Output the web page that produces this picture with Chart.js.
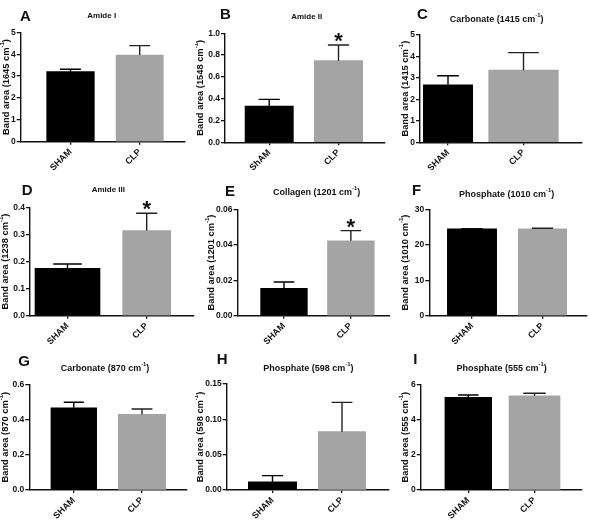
<!DOCTYPE html>
<html>
<head>
<meta charset="utf-8">
<script src="https://cdn.jsdelivr.net/npm/chart.js@4.4.1/dist/chart.umd.min.js"></script>
<style>
  body { margin: 0; background: #fff; }
  #wrap { position: relative; width: 590px; height: 528px; }
  canvas { position: absolute; }
</style>
</head>
<body>
<div id="wrap"></div>
<script>
const FONT = '"Liberation Sans", Arial, sans-serif';
Chart.defaults.font.family = FONT;

// data
const panelLetters = ["A", "B", "C", "D", "E", "F", "G", "H", "I"];
const panelTitles = ["Amide I", "Amide II", "Carbonate (1415 cm-1)", "Amide III", "Collagen (1201 cm-1)",
  "Phosphate (1010 cm-1)", "Carbonate (870 cm-1)", "Phosphate (598 cm-1)", "Phosphate (555 cm-1)"];
const wavenumbers = ["1645", "1548", "1415", "1238", "1201", "1010", "870", "598", "555"];
const firstGroup = ["SHAM", "ShAM", "SHAM", "SHAM", "SHAM", "SHAM", "SHAM", "SHAM", "SHAM"];
const secondGroup = ["CLP", "CLP", "CLP", "CLP", "CLP", "CLP", "CLP", "CLP", "CLP"];
const shamMean  = [3.2, 0.333, 2.68, 0.175, 0.0155, 24.5, 0.467, 0.0117, 5.26];
const shamUpper = [3.31, 0.394, 3.10, 0.191, 0.019, 24.5, 0.498, 0.0203, 5.39];
const clpMean   = [3.96, 0.749, 3.36, 0.314, 0.0422, 24.5, 0.430, 0.0825, 5.35];
const clpUpper  = [4.39, 0.893, 4.18, 0.378, 0.048, 24.65, 0.460, 0.124, 5.49];
const yMax   = [5, 1.0, 5, 0.4, 0.06, 30, 0.6, 0.15, 6];
const yStep  = [1, 0.2, 1, 0.1, 0.02, 10, 0.2, 0.05, 2];
const yDecimals = [0, 1, 0, 1, 2, 0, 1, 2, 0];
const significant = [false, true, false, true, true, false, false, false, false];

// layout (page pixels)
const boxes = [
  { left: 0,   top: 0,   w: 195, h: 170, axisX: 20.7,  topY: 32.3,  zeroY: 141.7, rightX: 185,   c0: 70.5,  c1: 139.7, bw: [47.6, 47.2], title: [101.7, 15.7, 8], letter: [20, 17],      yTitleX: 6 },
  { left: 195, top: 0,   w: 195, h: 170, axisX: 225,   topY: 33.3,  zeroY: 142.3, rightX: 385,   c0: 269.2, c1: 338.5, bw: [48.3, 48.3], title: [306.7, 16.7, 8], letter: [220, 15],     yTitleX: 200 },
  { left: 390, top: 0,   w: 200, h: 170, axisX: 420,   topY: 35,    zeroY: 142.3, rightX: 581.7, c0: 448,   c1: 523.5, bw: [49.4, 69.6], title: [496.7, 19.3, 9], letter: [417, 15],     yTitleX: 405 },
  { left: 0,   top: 170, w: 195, h: 175, axisX: 30,    topY: 207.3, zeroY: 315.7, rightX: 193.3, c0: 67.5,  c1: 146.7, bw: [65, 48],     title: [108.3, 189.3, 8], letter: [21.7, 190.7], yTitleX: 5 },
  { left: 195, top: 170, w: 195, h: 175, axisX: 237.5, topY: 209.3, zeroY: 315.7, rightX: 393.3, c0: 285,   c1: 353.3, bw: [46.7, 46.7], title: [316.7, 192.3, 9], letter: [225, 191.7], yTitleX: 211 },
  { left: 390, top: 170, w: 200, h: 175, axisX: 429.3, topY: 209.3, zeroY: 315.7, rightX: 586.7, c0: 472,   c1: 542.5, bw: [49.3, 48.3], title: [506.7, 194.3, 9], letter: [412, 190.7], yTitleX: 405 },
  { left: 0,   top: 345, w: 195, h: 183, axisX: 29.3,  topY: 384.3, zeroY: 490,   rightX: 186.7, c0: 73.8,  c1: 142,   bw: [45.7, 47.3], title: [105, 368.3, 9],   letter: [18.3, 362.3], yTitleX: 5 },
  { left: 195, top: 345, w: 195, h: 183, axisX: 226.7, topY: 384,   zeroY: 490,   rightX: 388.3, c0: 272.5, c1: 342,   bw: [48.3, 47.3], title: [308.3, 368.3, 9], letter: [216.7, 360],  yTitleX: 200 },
  { left: 390, top: 345, w: 200, h: 183, axisX: 420.7, topY: 384.3, zeroY: 490,   rightX: 581.7, c0: 468.3, c1: 534.5, bw: [46.7, 51],   title: [501.7, 368.3, 9], letter: [413.3, 360],  yTitleX: 405 }
];

const INK = "#111";

// text with "cm-1" superscript, centred on x
function drawSupText(ctx, text, x, y, size) {
  const parts = text.split("-1");
  const a = parts[0], b = parts.length > 1 ? parts[1] : "";
  const sup = parts.length > 1 ? "-1" : "";
  const supSize = size * 0.65;
  ctx.font = `bold ${size}px ${FONT}`;
  const wa = ctx.measureText(a).width, wb = ctx.measureText(b).width;
  ctx.font = `bold ${supSize}px ${FONT}`;
  const ws = sup ? ctx.measureText(sup).width : 0;
  let sx = x - (wa + ws + wb) / 2;
  ctx.textAlign = "left";
  ctx.textBaseline = "middle";
  ctx.font = `bold ${size}px ${FONT}`;
  ctx.fillText(a, sx, y);
  if (sup) {
    ctx.font = `bold ${supSize}px ${FONT}`;
    ctx.fillText(sup, sx + wa, y - size * 0.38);
    ctx.font = `bold ${size}px ${FONT}`;
    ctx.fillText(b, sx + wa + ws, y);
  }
}

function decor(i, b) {
  return {
    id: "decor" + i,
    afterDraw(chart) {
      const ctx = chart.ctx;
      const ys = chart.scales.y;
      ctx.save();
      ctx.fillStyle = INK;

      // error bars (upper only)
      const uppers = [shamUpper[i], clpUpper[i]];
      const colors = ["#000", "#222"];
      [0, 1].forEach(d => {
        const bar = chart.getDatasetMeta(d).data[0];
        const yTop = ys.getPixelForValue(uppers[d]);
        const cap = bar.width * 0.44;
        ctx.strokeStyle = colors[d];
        ctx.lineWidth = 1.4;
        ctx.beginPath();
        ctx.moveTo(bar.x, bar.y);
        ctx.lineTo(bar.x, yTop);
        ctx.moveTo(bar.x - cap / 2, yTop);
        ctx.lineTo(bar.x + cap / 2, yTop);
        ctx.stroke();
        if (d === 1 && significant[i]) {
          ctx.font = `bold 22px ${FONT}`;
          ctx.textAlign = "center";
          ctx.textBaseline = "middle";
          ctx.fillText("*", bar.x, yTop - 3);
        }
      });

      // panel letter
      ctx.font = `bold 15px ${FONT}`;
      ctx.textAlign = "left";
      ctx.textBaseline = "middle";
      ctx.fillText(panelLetters[i], b.letter[0] - b.left, b.letter[1] - b.top);

      // panel title
      drawSupText(ctx, panelTitles[i], b.title[0] - b.left, b.title[1] - b.top, b.title[2]);

      // y-axis title
      ctx.translate(b.yTitleX - b.left, (b.topY + b.zeroY) / 2 - b.top);
      ctx.rotate(-Math.PI / 2);
      drawSupText(ctx, "Band area (" + wavenumbers[i] + " cm-1)", 0, 0, 9.3);
      ctx.restore();
    }
  };
}

const wrap = document.getElementById("wrap");

boxes.forEach((b, i) => {
  const canvas = document.createElement("canvas");
  canvas.width = b.w;
  canvas.height = b.h;
  canvas.style.left = b.left + "px";
  canvas.style.top = b.top + "px";
  canvas.style.width = b.w + "px";
  canvas.style.height = b.h + "px";
  wrap.appendChild(canvas);

  const unit = b.c1 - b.c0;
  const xMin = -(b.c0 - b.axisX) / unit;
  const xMax = 1 + (b.rightX - b.c1) / unit;

  new Chart(canvas, {
    type: "bar",
    data: {
      datasets: [
        { data: [{ x: 0, y: shamMean[i] }], backgroundColor: "#000", barThickness: b.bw[0], grouped: false },
        { data: [{ x: 1, y: clpMean[i] }], backgroundColor: "#a4a4a4", barThickness: b.bw[1], grouped: false }
      ]
    },
    options: {
      responsive: false,
      animation: false,
      devicePixelRatio: 1,
      layout: { padding: { top: b.topY - b.top, right: b.left + b.w - b.rightX, left: 0, bottom: 0 } },
      plugins: { legend: { display: false }, tooltip: { enabled: false } },
      scales: {
        x: {
          type: "linear",
          bounds: "data",
          offset: false,
          min: xMin,
          max: xMax,
          afterBuildTicks: s => { s.ticks = [{ value: 0 }, { value: 1 }]; },
          afterFit: s => { s.height = b.top + b.h - b.zeroY; },
          grid: { drawOnChartArea: false, offset: false, tickLength: 3, color: INK, lineWidth: 1.3 },
          border: { color: INK, width: 1.4 },
          ticks: {
            autoSkip: false, minRotation: 45, maxRotation: 45, padding: 2, color: INK,
            font: { size: 9, weight: "bold" },
            callback: v => (v === 0 ? firstGroup[i] : secondGroup[i])
          }
        },
        y: {
          min: 0,
          max: yMax[i],
          afterFit: s => { s.width = b.axisX - b.left; },
          grid: { drawOnChartArea: false, tickLength: 4, color: INK, lineWidth: 1.3 },
          border: { color: INK, width: 1.4 },
          ticks: {
            stepSize: yStep[i], padding: 1, color: INK,
            font: { size: 8.5, weight: "bold" },
            callback: v => Number(v).toFixed(yDecimals[i])
          }
        }
      }
    },
    plugins: [decor(i, b)]
  });
});
</script>
</body>
</html>
